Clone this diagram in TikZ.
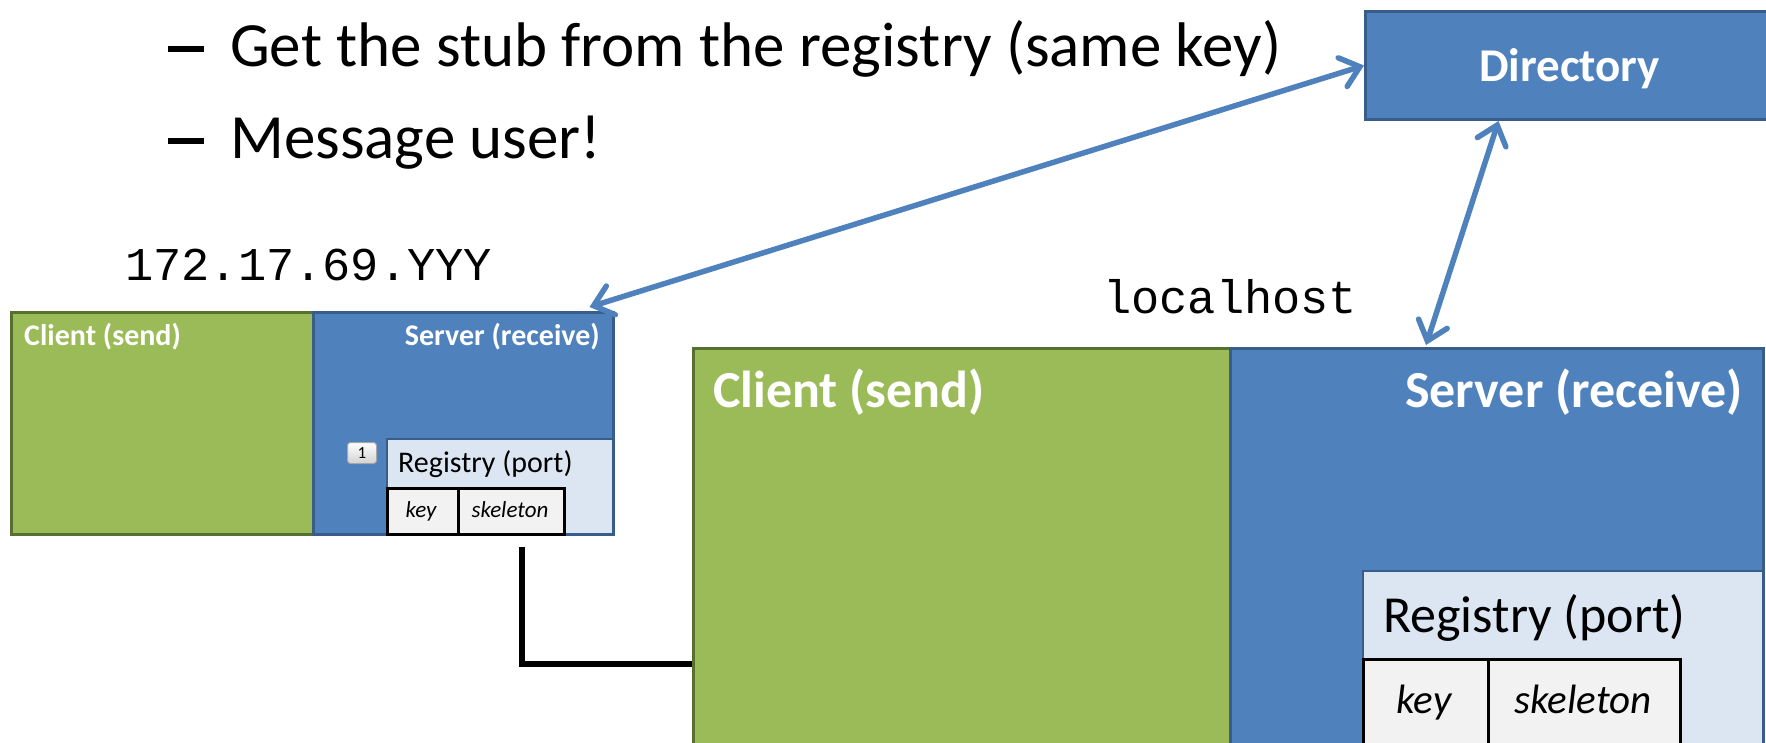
\documentclass[tikz,border=0pt]{standalone}
\usepackage{fontspec}
\setmainfont{Carlito}
\setmonofont{Liberation Mono}
\usepackage{tikz}
\usetikzlibrary{arrows.meta, positioning}
\definecolor{cgreen}{HTML}{9BBB59}
\definecolor{cgreendark}{HTML}{58702F}
\definecolor{sblue}{HTML}{4F81BD}
\definecolor{sbluedark}{HTML}{385D8A}
\definecolor{regfill}{HTML}{DCE6F2}
\definecolor{cellfill}{HTML}{F2F2F2}
\newcommand{\bulletdash}{\rule[15pt]{36pt}{6pt}\hspace{26pt}}

\begin{document}
\begin{tikzpicture}[
    x=1pt, y=-1pt,
    box/.style={rectangle, anchor=north west, inner sep=0pt},
    client/.style={box, fill=cgreen, draw=cgreendark, line width=3pt},
    server/.style={box, fill=sblue, draw=sbluedark, line width=2.5pt},
    registry/.style={box, fill=regfill, draw=sbluedark, line width=2pt},
    cell/.style={box, fill=cellfill, draw=black, line width=3pt},
    txt/.style={inner sep=0pt, anchor=base west},
    boxtitle/.style={txt, text=white, font=\bfseries\fontsize{#1}{#1}\selectfont},
    plain/.style={txt, font=\fontsize{#1}{#1}\selectfont},
    celltext/.style={inner sep=0pt, anchor=base, font=\itshape\fontsize{#1}{#1}\selectfont},
    host/.style={txt, font=\ttfamily\fontsize{47}{47}\selectfont},
    link/.style={draw=sblue, line width=5.5pt, line cap=round,
        {Straight Barb[length=18pt,width=30pt,line cap=round]}-{Straight Barb[length=18pt,width=30pt,line cap=round]}},
    wire/.style={draw=black, line width=6pt}
]
    \useasboundingbox (0,0) rectangle (1766,743);
    \clip (0,0) rectangle (1766,743);

    % Bullets
    \node[plain=63] (bullet1) at (168,67) {\bulletdash Get the stub from the registry (same key)};
    \node[plain=63] (bullet2) at (168,159) {\bulletdash Message user!};

    % Directory
    \node[box, fill=sblue, draw=sbluedark, line width=3pt, minimum width=408pt, minimum height=108pt,
          text=white, text depth=0pt, font=\bfseries\fontsize{47}{47}\selectfont] (dir) at (1364,10) {Directory};

    % Remote host
    \node[host] (remote) at (125,280) {172.17.69.YYY};
    \node[client, minimum width=302pt, minimum height=222pt] (sclient) at (10,311) {};
    \node[server, minimum width=300pt, minimum height=222pt] (sserver) at (312,311) {};
    \node[registry, minimum width=226pt, minimum height=95pt] (sreg) at (386,438) {};
    \node[cell, minimum width=71pt, minimum height=46pt] (skey) at (386,487) {};
    \node[cell, minimum width=106pt, minimum height=46pt] (sskel) at (457,487) {};
    \node[box, rounded corners=3pt, top color=white, bottom color=gray!35, draw=gray!70, line width=1pt,
          minimum width=29pt, minimum height=21pt, font=\fontsize{17}{17}\selectfont] (badge) at (347,442) {1};
    \node[boxtitle=30] (sclientlbl) at (24,345) {Client (send)};
    \node[boxtitle=30, anchor=base east] (sserverlbl) at (600,345) {Server (receive)};
    \node[plain=30] (sreglbl) at (398,472) {Registry (port)};
    \node[celltext=23] (skeylbl) at (421,517) {key};
    \node[celltext=23] (sskellbl) at (510,517) {skeleton};

    % Local host
    \node[host] (local) at (1103,313) {localhost};
    \node[client, minimum width=537pt, minimum height=420pt] (lclient) at (692,347) {};
    \node[server, minimum width=533pt, minimum height=420pt] (lserver) at (1229,347) {};
    \node[registry, minimum width=400pt, minimum height=200pt] (lreg) at (1362,570) {};
    \node[cell, minimum width=125pt, minimum height=110pt] (lkey) at (1362,658) {};
    \node[cell, minimum width=192pt, minimum height=110pt] (lskel) at (1487,658) {};
    \node[boxtitle=52] (lclientlbl) at (713,407) {Client (send)};
    \node[boxtitle=52, anchor=base east] (lserverlbl) at (1743,407) {Server (receive)};
    \node[plain=52] (lreglbl) at (1383,632) {Registry (port)};
    \node[celltext=41] (lkeylbl) at (1424,713) {key};
    \node[celltext=41] (lskellbl) at (1583,713) {skeleton};

    % Connectors
    \draw[link] (dir.west) -- ([xshift=-25pt,yshift=4pt]sserver.north east);
    \draw[link] ([xshift=-71pt]dir.south) -- ([xshift=197pt,yshift=2pt]lserver.north west);
    \draw[wire] ([xshift=10pt,yshift=-11pt]sskel.south) |- ([yshift=-105.5pt]lclient.west);
\end{tikzpicture}
\end{document}
